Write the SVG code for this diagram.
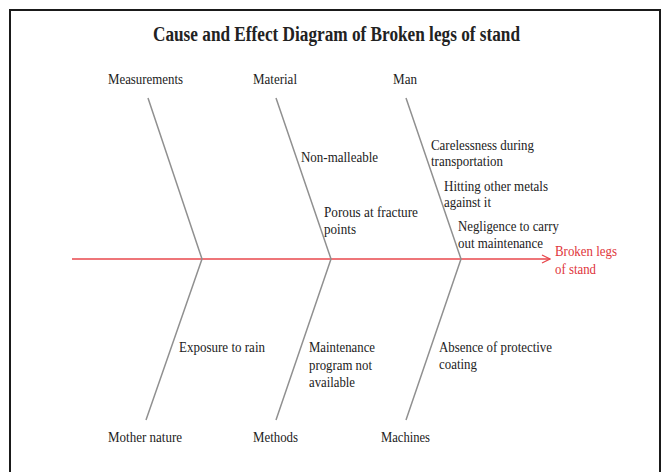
<svg xmlns="http://www.w3.org/2000/svg" width="664" height="472" viewBox="0 0 664 472">
<style>
.t{font-family:"Liberation Serif","Times New Roman",serif;font-size:15px;fill:#222}
.title{font-family:"Liberation Serif","Times New Roman",serif;font-size:20px;font-weight:bold;fill:#222}
.red{fill:#e0353b}
.bone{stroke:#909090;stroke-width:1.5;fill:none}
.spine{stroke:#e8474c;stroke-width:1.5;fill:none}
</style>
<defs>
<marker id="arr" viewBox="0 0 10 10" refX="9" refY="5" markerWidth="10" markerHeight="10" markerUnits="userSpaceOnUse" orient="auto">
<path d="M1,1 L9,5 L1,9" fill="none" stroke="#e8474c" stroke-width="1.3"/>
</marker>
</defs>
<rect x="10" y="10" width="650" height="470" fill="#fff" stroke="#1a1a1a" stroke-width="2"/>
<text class="title" x="153" y="41" textLength="367" lengthAdjust="spacingAndGlyphs">Cause and Effect Diagram of Broken legs of stand</text>
<g id="connectors">
<line class="spine" x1="72" y1="259" x2="550" y2="259" marker-end="url(#arr)"/>
<path class="bone" d="M148,98 L202,259 L146,420"/>
<path class="bone" d="M276,98 L331,259 L276,420"/>
<path class="bone" d="M406,98 L461,259 L406,420"/>
</g>
<g id="measurements"><text class="t" x="108" y="84" textLength="75" lengthAdjust="spacingAndGlyphs">Measurements</text></g>
<g id="material"><text class="t" x="253" y="84" textLength="44" lengthAdjust="spacingAndGlyphs">Material</text>
<text class="t" x="301" y="162" textLength="77" lengthAdjust="spacingAndGlyphs">Non-malleable</text>
<text class="t" x="324" y="217" textLength="94" lengthAdjust="spacingAndGlyphs">Porous at fracture</text>
<text class="t" x="324" y="234" textLength="32" lengthAdjust="spacingAndGlyphs">points</text></g>
<g id="man"><text class="t" x="393" y="84" textLength="24" lengthAdjust="spacingAndGlyphs">Man</text>
<text class="t" x="431" y="150" textLength="103" lengthAdjust="spacingAndGlyphs">Carelessness during</text>
<text class="t" x="431" y="166" textLength="72" lengthAdjust="spacingAndGlyphs">transportation</text>
<text class="t" x="444" y="191" textLength="104" lengthAdjust="spacingAndGlyphs">Hitting other metals</text>
<text class="t" x="444" y="207" textLength="47" lengthAdjust="spacingAndGlyphs">against it</text>
<text class="t" x="458" y="231" textLength="101" lengthAdjust="spacingAndGlyphs">Negligence to carry</text>
<text class="t" x="458" y="248" textLength="85" lengthAdjust="spacingAndGlyphs">out maintenance</text></g>
<g id="effect"><text class="t red" x="555" y="256" textLength="62" lengthAdjust="spacingAndGlyphs">Broken legs</text>
<text class="t red" x="555" y="274" textLength="41" lengthAdjust="spacingAndGlyphs">of stand</text></g>
<g id="mother-nature"><text class="t" x="108" y="442" textLength="74" lengthAdjust="spacingAndGlyphs">Mother nature</text>
<text class="t" x="179" y="352" textLength="86" lengthAdjust="spacingAndGlyphs">Exposure to rain</text></g>
<g id="methods"><text class="t" x="253" y="442" textLength="45" lengthAdjust="spacingAndGlyphs">Methods</text>
<text class="t" x="309" y="352" textLength="66" lengthAdjust="spacingAndGlyphs">Maintenance</text>
<text class="t" x="309" y="370" textLength="63" lengthAdjust="spacingAndGlyphs">program not</text>
<text class="t" x="309" y="387" textLength="46" lengthAdjust="spacingAndGlyphs">available</text></g>
<g id="machines"><text class="t" x="381" y="442" textLength="49" lengthAdjust="spacingAndGlyphs">Machines</text>
<text class="t" x="439" y="352" textLength="113" lengthAdjust="spacingAndGlyphs">Absence of protective</text>
<text class="t" x="439" y="369" textLength="38" lengthAdjust="spacingAndGlyphs">coating</text></g>
</svg>
